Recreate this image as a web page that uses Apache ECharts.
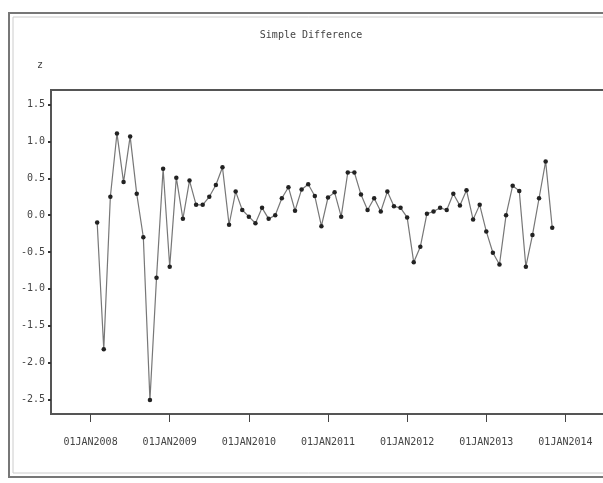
<!DOCTYPE html>
<html><head><meta charset="utf-8">
<script src="https://cdn.jsdelivr.net/npm/echarts@6/dist/echarts.min.js"></script>
<style>html,body{margin:0;padding:0;background:#fff}#c{width:603px;height:483px}</style>
</head><body><div id="c"></div>
<script>
const chartTitle = 'Simple Difference';
const yName = 'z';
const months = [
  '2008-02','2008-03','2008-04','2008-05','2008-06','2008-07','2008-08','2008-09','2008-10','2008-11','2008-12',
  '2009-01','2009-02','2009-03','2009-04','2009-05','2009-06','2009-07','2009-08','2009-09','2009-10','2009-11','2009-12',
  '2010-01','2010-02','2010-03','2010-04','2010-05','2010-06','2010-07','2010-08','2010-09','2010-10','2010-11','2010-12',
  '2011-01','2011-02','2011-03','2011-04','2011-05','2011-06','2011-07','2011-08','2011-09','2011-10','2011-11','2011-12',
  '2012-01','2012-02','2012-03','2012-04','2012-05','2012-06','2012-07','2012-08','2012-09','2012-10','2012-11','2012-12',
  '2013-01','2013-02','2013-03','2013-04','2013-05','2013-06','2013-07','2013-08','2013-09','2013-10','2013-11'
];
const values = [
  -0.10,-1.82,0.25,1.11,0.45,1.07,0.29,-0.30,-2.51,-0.85,0.63,
  -0.70,0.51,-0.05,0.47,0.14,0.14,0.25,0.41,0.65,-0.13,0.32,0.07,
  -0.02,-0.11,0.10,-0.05,0.00,0.23,0.38,0.06,0.35,0.42,0.26,-0.15,
  0.24,0.31,-0.02,0.58,0.58,0.28,0.07,0.23,0.05,0.32,0.12,0.10,
  -0.03,-0.64,-0.43,0.02,0.05,0.10,0.07,0.29,0.13,0.34,-0.06,0.14,
  -0.22,-0.51,-0.67,0.00,0.40,0.33,-0.70,-0.27,0.23,0.73,-0.17
];
const xTickLabels = ['01JAN2008','01JAN2009','01JAN2010','01JAN2011','01JAN2012','01JAN2013','01JAN2014'];
const yTickValues = [1.5,1.0,0.5,0.0,-0.5,-1.0,-1.5,-2.0,-2.5];

function monthIndex(s){ const p = s.split('-'); return (parseInt(p[0])-2008)*12 + parseInt(p[1]) - 1; }
const xTickPos = xTickLabels.map(l => (parseInt(l.slice(5))-2008)*12);
const labelAt = {}; xTickPos.forEach((p,i)=>{ labelAt[p] = xTickLabels[i]; });
const font = 'DejaVu Sans Mono';

const chart = echarts.init(document.getElementById('c'), null, {renderer:'canvas'});
chart.setOption({
  animation: false,
  backgroundColor: '#fff',
  grid: { left: 51, top: 90, width: 554, height: 324, outerBoundsMode: 'none', containLabel: false,
          show: true, borderColor: '#555', borderWidth: 2, backgroundColor:'#fff' },
  xAxis: {
    type: 'value', min: -6, max: 78,
    axisLine: { show: true, onZero: false, lineStyle: { color: '#555', width: 2 } },
    axisTick: { show: true, customValues: xTickPos, length: 8, lineStyle: { color: '#444', width: 1 } },
    axisLabel: { customValues: xTickPos, formatter: v => labelAt[v] || '', margin: 23, fontFamily: font, fontSize: 10, color: '#444' },
    splitLine: { show: false }
  },
  yAxis: {
    type: 'value', min: -2.7, max: 1.7,
    axisLine: { show: true, onZero: false, lineStyle: { color: '#555', width: 2 } },
    axisTick: { show: true, customValues: yTickValues, length: 3, lineStyle: { color: '#333', width: 2 } },
    axisLabel: { customValues: yTickValues, formatter: v => v.toFixed(1), margin: 6, fontFamily: font, fontSize: 10, color: '#444' },
    splitLine: { show: false }
  },
  graphic: [
    { type: 'rect', shape: { x: 9, y: 13, width: 620, height: 464 }, style: { fill: 'none', stroke: '#777', lineWidth: 2 }, z: -1 },
    { type: 'rect', shape: { x: 13, y: 17, width: 620, height: 456 }, style: { fill: 'none', stroke: '#ccc', lineWidth: 1 }, z: -1 },
    { type: 'text', x: 311, y: 35, style: { text: chartTitle, font: '10px "DejaVu Sans Mono"', fill: '#444', textAlign: 'center', textVerticalAlign: 'middle' } },
    { type: 'text', x: 40, y: 65, style: { text: yName, font: '10px "DejaVu Sans Mono"', fill: '#444', textAlign: 'center', textVerticalAlign: 'middle' } }
  ],
  series: [{
    type: 'line',
    data: months.map((m, i) => [monthIndex(m), values[i]]),
    symbol: 'circle', symbolSize: 4.5,
    itemStyle: { color: '#222' },
    lineStyle: { color: '#777', width: 1.2 },
    clip: false
  }]
});
</script>
</body></html>
